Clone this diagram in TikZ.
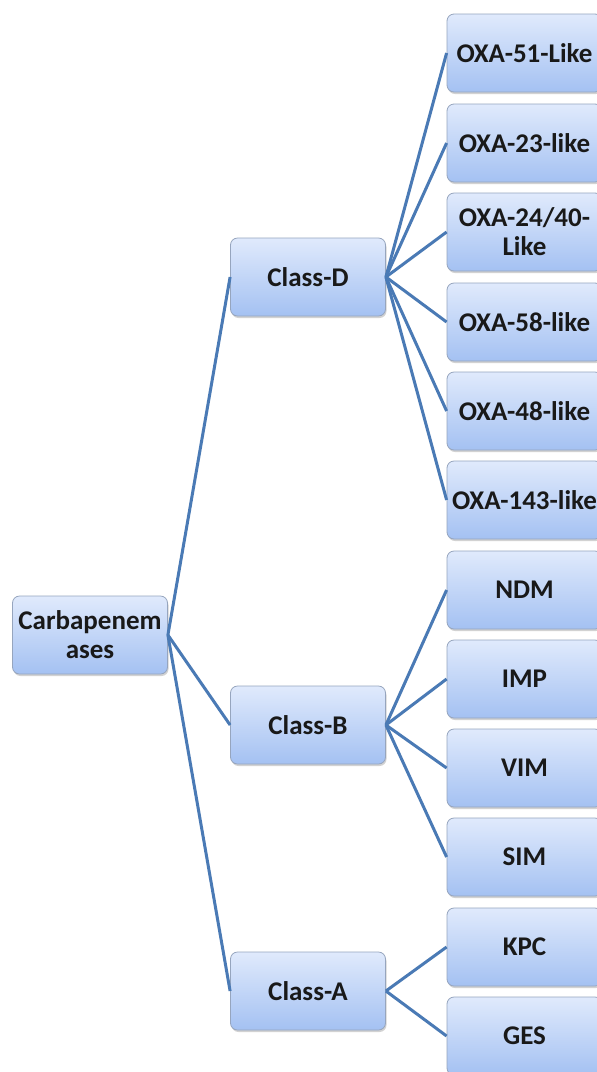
\documentclass[tikz,border=0pt]{standalone}
\usepackage{fontspec}
\setmainfont{Carlito}
\usetikzlibrary{shadows}
\definecolor{topc}{RGB}{224,234,252}
\definecolor{botc}{RGB}{164,193,242}
\definecolor{edgec}{RGB}{150,165,190}
\definecolor{linec}{RGB}{74,122,181}
\definecolor{txtc}{RGB}{25,25,25}
\tikzset{
 box/.style={draw=edgec, line width=0.8pt, rounded corners=7pt, top color=topc, bottom color=botc,
   minimum width=155pt, minimum height=78pt, inner sep=1pt, align=center,
   font=\fontsize{27}{29}\selectfont\bfseries, text=txtc,
   drop shadow={shadow xshift=1pt, shadow yshift=-2pt, opacity=0.35, fill=gray}},
 conn/.style={draw=linec, line width=3pt}
}
\begin{document}
\begin{tikzpicture}[x=1pt,y=-1pt]
\clip (0,0) rectangle (597,1072);
\fill[white] (0,0) rectangle (597,1072);
\node[box] (root) at (90,635) {Carbapenem\\ases};
\node[box] (D) at (308,277) {Class-D};
\node[box] (B) at (308,725) {Class-B};
\node[box] (A) at (308,991) {Class-A};
\node[box] (d1) at (524.5,53) {OXA-51-Like};
\node[box] (d2) at (524.5,143) {OXA-23-like};
\node[box] (d3) at (524.5,232) {OXA-24/40-\\Like};
\node[box] (d4) at (524.5,322) {OXA-58-like};
\node[box] (d5) at (524.5,411) {OXA-48-like};
\node[box] (d6) at (524.5,500) {OXA-143-like};
\node[box] (b1) at (524.5,590) {NDM};
\node[box] (b2) at (524.5,679) {IMP};
\node[box] (b3) at (524.5,768) {VIM};
\node[box] (b4) at (524.5,857) {SIM};
\node[box] (a1) at (524.5,947) {KPC};
\node[box] (a2) at (524.5,1036) {GES};
\foreach \c in {D,B,A} \draw[conn] (root.east) -- (\c.west);
\foreach \c in {d1,d2,d3,d4,d5,d6} \draw[conn] (D.east) -- (\c.west);
\foreach \c in {b1,b2,b3,b4} \draw[conn] (B.east) -- (\c.west);
\foreach \c in {a1,a2} \draw[conn] (A.east) -- (\c.west);
\end{tikzpicture}
\end{document}
